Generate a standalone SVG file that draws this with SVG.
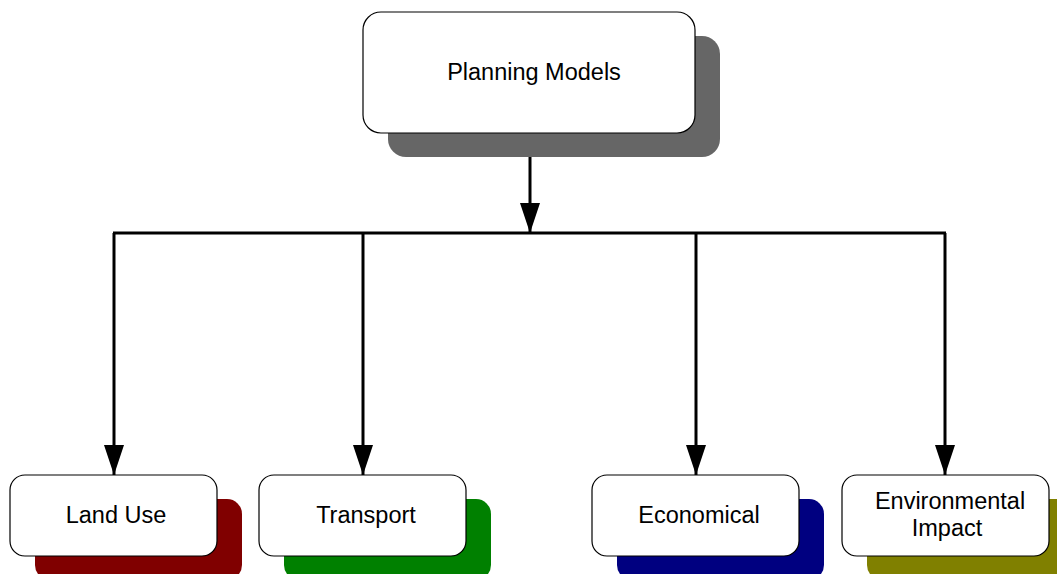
<svg xmlns="http://www.w3.org/2000/svg" width="1057" height="574" viewBox="0 0 1057 574">
<style>
.box{fill:#ffffff;stroke:#000000;stroke-width:1.2}
.lbl{font-family:"Liberation Sans",Arial,sans-serif;font-size:23.5px;fill:#000000;text-anchor:middle}
.con{fill:none;stroke:#000000;stroke-width:3}
</style>
<defs>
<marker id="arr" markerUnits="userSpaceOnUse" markerWidth="31" markerHeight="21" refX="30" refY="10" orient="auto" viewBox="0 0 31 21">
<path d="M0,0 L30,10 L0,20 Z" fill="#000000"/>
</marker>
</defs>
<rect width="1057" height="574" fill="#ffffff"/>
<g id="connectors">
<line class="con" x1="530" y1="133" x2="530" y2="233" marker-end="url(#arr)"/>
<line class="con" x1="113" y1="233" x2="946" y2="233"/>
<line class="con" x1="114" y1="233" x2="114" y2="475" marker-end="url(#arr)"/>
<line class="con" x1="363" y1="233" x2="363" y2="475" marker-end="url(#arr)"/>
<line class="con" x1="696" y1="233" x2="696" y2="475" marker-end="url(#arr)"/>
<line class="con" x1="945" y1="233" x2="945" y2="475" marker-end="url(#arr)"/>
</g>
<g id="planning-models">
<rect x="388" y="36" width="332" height="121" rx="18" fill="#666666"/>
<rect class="box" x="363" y="12" width="332" height="121" rx="18"/>
<text class="lbl" x="534" y="80">Planning Models</text>
</g>
<g id="land-use">
<rect x="35" y="499" width="207" height="81" rx="15" fill="#800000"/>
<rect class="box" x="10" y="475" width="207" height="81" rx="15"/>
<text class="lbl" x="116" y="523">Land Use</text>
</g>
<g id="transport">
<rect x="284" y="499" width="207" height="81" rx="15" fill="#008000"/>
<rect class="box" x="259" y="475" width="207" height="81" rx="15"/>
<text class="lbl" x="366" y="523">Transport</text>
</g>
<g id="economical">
<rect x="617" y="499" width="207" height="81" rx="15" fill="#000080"/>
<rect class="box" x="592" y="475" width="207" height="81" rx="15"/>
<text class="lbl" x="699" y="523">Economical</text>
</g>
<g id="environmental-impact">
<rect x="867" y="499" width="207" height="81" rx="15" fill="#808000"/>
<rect class="box" x="842" y="475" width="207" height="81" rx="15"/>
<text class="lbl" x="950" y="509">Environmental</text>
<text class="lbl" x="947" y="536">Impact</text>
</g>
</svg>
